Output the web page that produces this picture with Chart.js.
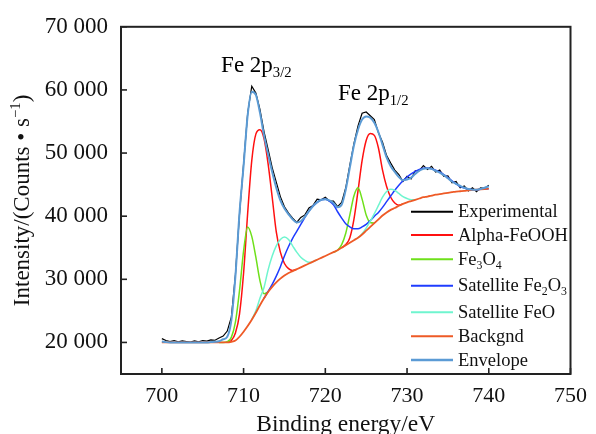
<!DOCTYPE html>
<html><head><meta charset="utf-8">
<script src="https://cdn.jsdelivr.net/npm/chart.js@4"></script>
<style>html,body{margin:0;padding:0;background:#fff}#wrap{width:596px;height:434px;position:relative}</style>
</head><body><div id="wrap"><canvas id="c" width="596" height="434"></canvas></div>
<script>
const energy = [700,700.5,701,701.5,702,702.5,703,703.5,704,704.5,705,705.5,706,706.5,707,707.5,708,708.5,709,709.5,710,710.5,711,711.5,712,712.5,713,713.5,714,714.5,715,715.5,716,716.5,717,717.5,718,718.5,719,719.5,720,720.5,721,721.5,722,722.5,723,723.5,724,724.5,725,725.5,726,726.5,727,727.5,728,728.5,729,729.5,730,730.5,731,731.5,732,732.5,733,733.5,734,734.5,735,735.5,736,736.5,737,737.5,738,738.5,739,739.5,740];

const experimental = [20600,20300,20150,20300,20100,20250,20150,20050,20250,20100,20300,20200,20400,20350,20700,21000,21800,24000,30700,40300,48300,56300,60600,59500,56900,53400,50600,47700,45400,43100,41500,40500,39700,39000,39800,40200,41300,41700,42700,42600,43000,42400,42400,41500,42200,44500,48100,51500,54300,56300,56500,55900,55300,53200,51700,49600,48400,47300,46600,45500,46300,45900,47200,47200,48000,47400,47900,47000,47300,46300,46400,45300,45500,44500,44800,44000,44500,43900,44500,44400,44900];

const alphaFeOOH = [null,null,null,null,null,null,null,null,null,null,null,null,null,null,null,null,20000,20300,21500,24500,31000,40500,48800,53000,53700,52300,48300,43000,37500,34300,32500,31700,31400,31600,null,null,null,null,null,null,null,null,null,null,35000,35500,36600,39500,44000,48800,52000,53100,52800,50800,47300,44700,43000,42100,41750,41950,null,null,null,null,null,null,null,null,null,null,null,null,null,null,null,null,null,null,null,null,null];

const fe3o4 = [null,null,null,null,null,null,null,null,null,null,null,null,null,null,20000,20000,20100,20800,23200,28200,34500,38300,36800,33500,29800,27700,28000,null,null,null,null,null,null,null,null,null,null,null,null,null,null,null,34300,34600,35500,37300,40200,43200,44500,42700,40200,39000,38900,null,null,null,null,null,null,null,null,null,null,null,null,null,null,null,null,null,null,null,null,null,null,null,null,null,null,null,null];

const satFe2O3 = [null,null,null,null,null,null,null,null,null,null,null,null,null,null,null,null,null,null,null,null,null,null,null,null,null,27000,28100,29200,30500,32000,33700,35200,36500,37600,38700,39800,40800,41600,42200,42600,42700,42400,41800,40700,39700,38800,38300,38000,38000,38300,38700,39300,40000,40600,41400,42300,43200,44100,44900,45600,46200,46700,47100,47400,47600,47650,47500,47300,47000,46600,46100,45600,45100,44700,44450,44300,44200,44200,44250,44300,44350];

const satFeO = [null,null,null,null,null,null,null,null,null,null,null,null,null,null,null,null,null,null,null,null,null,null,23600,25000,27000,28700,31500,33700,35300,36300,36700,36300,35300,34300,33500,33000,32700,32800,33100,null,null,null,null,null,null,null,null,null,36600,37200,38100,39200,40400,41700,43000,43900,44250,44100,43600,43100,42800,42600,42600,null,null,null,null,null,null,null,null,null,null,null,null,null,null,null,null,null,null];

const backgnd = [20000,20000,20000,20000,20000,20000,20000,20000,20000,20000,20000,20000,20000,20000,20000,20000,20000,20100,20300,20900,21700,22600,23600,24700,25900,27000,28000,28800,29500,30100,30600,31000,31300,31600,31900,32200,32500,32800,33100,33400,33700,34000,34300,34600,35000,35400,35800,36200,36600,37100,37700,38300,38900,39500,40100,40600,41000,41300,41650,41950,42200,42400,42600,42800,43000,43100,43250,43400,43500,43600,43700,43800,43900,43950,44000,44100,44150,44200,44250,44300,44350];

const envelope = [20150,20050,20000,20000,20000,20000,20000,20000,20000,20000,20000,20000,20050,20100,20200,20500,20900,23500,30500,40500,48000,56000,59700,59200,56400,52800,49800,47000,44500,42500,41200,40300,39500,39000,39200,39900,40800,41600,42200,42600,42700,42500,42100,41400,41800,44200,47700,51200,53700,55300,55800,55600,54800,53300,51300,49300,47900,47000,46200,45700,45800,46100,46700,47200,47500,47600,47500,47200,46900,46500,46000,45500,45100,44800,44500,44300,44200,44200,44300,44500,44750];

const xTicks = [700,710,720,730,740,750];
const yTicks = [20000,30000,40000,50000,60000,70000];
const yTickLabels = ['20 000','30 000','40 000','50 000','60 000','70 000'];
const seriesNames = ['Experimental','Alpha-FeOOH','Fe_{3}O_{4}','Satellite Fe_{2}O_{3}','Satellite FeO','Backgnd','Envelope'];
const seriesColors = ['#000000','#ff1010','#6ee01a','#1f3cff','#6ff5cf','#ee5a26','#5b9bd5'];
const xTitle = 'Binding energy/eV';
const yTitle = 'Intensity/(Counts \u2022 s^{\u22121})';
const peakLabels = [{t:'Fe 2p_{3/2}', x:707.25, y:62850}, {t:'Fe 2p_{1/2}', x:721.55, y:58400}];

const FAM = "'Liberation Serif','Times New Roman',serif";
function segs(t){const out=[];const re=/([_^])\{([^}]*)\}|([^_^]+)/g;let m;while((m=re.exec(t))){if(m[3])out.push({t:m[3],k:0});else out.push({t:m[2],k:m[1]==='_'?1:2});}return out;}
function drawRich(ctx,text,x,y,size,align){
  const s=segs(text);let w=0;
  s.forEach(g=>{g.fs=g.k?size*0.64:size;ctx.font=g.fs+'px '+FAM;g.w=ctx.measureText(g.t).width;w+=g.w;});
  let cx=align==='center'?x-w/2:x;
  ctx.textAlign='left';ctx.textBaseline='alphabetic';
  s.forEach(g=>{ctx.font=g.fs+'px '+FAM;const dy=g.k===1?size*0.22:(g.k===2?-size*0.38:0);ctx.fillText(g.t,cx,y+dy);cx+=g.w;});
}

const seriesData = [experimental,alphaFeOOH,fe3o4,satFe2O3,satFeO,backgnd,envelope];
const widths = [1.2,1.5,1.5,1.5,1.5,1.8,2];
const datasets = seriesData.map((arr,i)=>({
  label: seriesNames[i],
  data: energy.map((e,j)=>({x:e,y:arr[j]})),
  borderColor: seriesColors[i],
  borderWidth: widths[i],
  pointRadius: 0,
  fill: false,
  spanGaps: false,
  tension: i===0?0:0.4,
  cubicInterpolationMode: i===0?'default':'monotone',
  order: 6-i
}));

const deco = {
  id:'deco',
  afterDatasetsDraw(chart){
    const ctx=chart.ctx, a=chart.chartArea, xs=chart.scales.x, ys=chart.scales.y;
    ctx.save();
    ctx.strokeStyle='#222';ctx.lineWidth=2;
    ctx.strokeRect(a.left,a.top,a.right-a.left,a.bottom-a.top);
    ctx.lineWidth=1.6;
    xTicks.forEach(v=>{const p=xs.getPixelForValue(v);ctx.beginPath();ctx.moveTo(p,a.bottom);ctx.lineTo(p,a.bottom-6);ctx.stroke();});
    yTicks.forEach(v=>{const p=ys.getPixelForValue(v);ctx.beginPath();ctx.moveTo(a.left,p);ctx.lineTo(a.left+6,p);ctx.stroke();});
    ctx.fillStyle='#000';
    peakLabels.forEach(l=>drawRich(ctx,l.t,xs.getPixelForValue(l.x),ys.getPixelForValue(l.y),23,'left'));
    const rows=[211.7,235,259.3,285.7,312.3,336.3,360];
    seriesNames.forEach((n,i)=>{
      ctx.strokeStyle=seriesColors[i];ctx.lineWidth=i===6?2.6:2;
      ctx.beginPath();ctx.moveTo(411,rows[i]);ctx.lineTo(453,rows[i]);ctx.stroke();
      ctx.fillStyle='#111';
      drawRich(ctx,n,458,rows[i]+5.5,18.5,'left');
    });
    ctx.fillStyle='#111';
    drawRich(ctx,xTitle,(a.left+a.right)/2,431,23.5,'center');
    ctx.translate(29,(a.top+a.bottom)/2);ctx.rotate(-Math.PI/2);
    drawRich(ctx,yTitle,0,0,23,'center');
    ctx.restore();
  }
};

new Chart(document.getElementById('c'),{
  type:'line',
  data:{datasets},
  options:{
    responsive:false, animation:false, devicePixelRatio:1,
    layout:{padding:{top:25,right:20,left:0,bottom:0}},
    plugins:{legend:{display:false},tooltip:{enabled:false}},
    scales:{
      x:{type:'linear',min:695,max:750,
        afterBuildTicks:s=>{s.ticks=xTicks.map(v=>({value:v}));},
        afterFit:s=>{s.height=60;},
        grid:{display:false,drawTicks:false},border:{display:false},
        ticks:{padding:9,color:'#111',font:{family:FAM,size:22},maxRotation:0,autoSkip:false,callback:v=>String(v)}},
      y:{type:'linear',min:15000,max:70000,
        afterBuildTicks:s=>{s.ticks=yTicks.map(v=>({value:v}));},
        afterFit:s=>{s.width=121;},
        grid:{display:false,drawTicks:false},border:{display:false},
        ticks:{padding:13,color:'#111',font:{family:FAM,size:23},autoSkip:false,callback:v=>yTickLabels[yTicks.indexOf(v)]}}
    }
  },
  plugins:[deco]
});
</script></body></html>
